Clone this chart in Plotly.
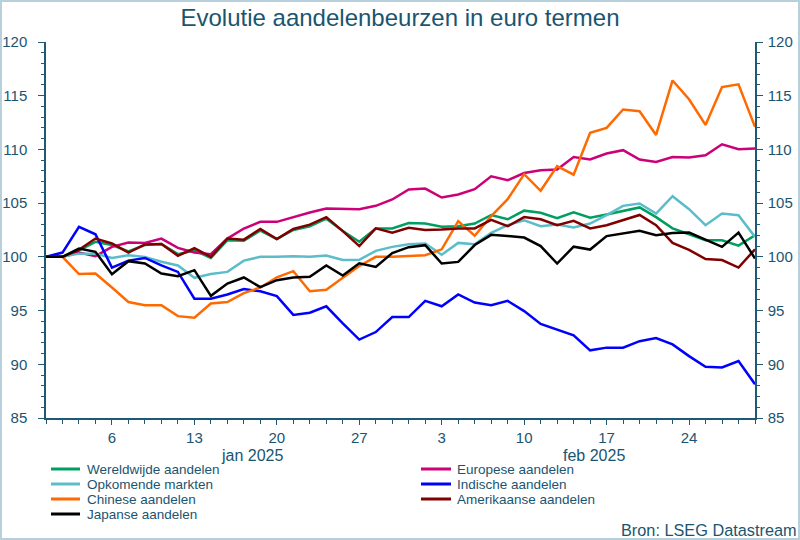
import plotly.graph_objects as go
import pandas as pd

# ---------------- data ----------------
dates = pd.bdate_range("2024-12-31", "2025-02-28")

tick_dates = ["2025-01-06", "2025-01-13", "2025-01-20", "2025-01-27",
              "2025-02-03", "2025-02-10", "2025-02-17", "2025-02-24"]
tick_labels = ["6", "13", "20", "27", "3", "10", "17", "24"]
month_labels = ["jan 2025", "feb 2025"]
month_centers = ["2025-01-16 12:00", "2025-02-14 06:00"]

wereldwijde = [100, 100, 100.6, 101.4, 101.1, 100.5, 101.1, 101.2, 100.25, 100.6,
               99.9, 101.55, 101.5, 102.45, 101.65, 102.5, 102.85, 103.55, 102.4, 101.4,
               102.65, 102.65, 103.15, 103.1, 102.8, 102.85, 103.1, 103.9, 103.5, 104.3,
               104.1, 103.6, 104.15, 103.65, 103.95, 104.3, 104.6, 103.7, 102.65, 102.1,
               101.55, 101.55, 101.05, 102.0]
europese = [100, 100, 100.4, 100.06, 100.93, 101.34, 101.3, 101.7, 100.84, 100.4,
            100.25, 101.7, 102.64, 103.26, 103.26, 103.72, 104.13, 104.5, 104.5, 104.44,
            104.75, 105.34, 106.27, 106.36, 105.52, 105.8, 106.3, 107.5, 107.13, 107.8,
            108.07, 108.13, 109.3, 109.06, 109.62, 109.93, 109.06, 108.84, 109.3, 109.24,
            109.46, 110.48, 110.02, 110.08]
opkomende = [100, 100, 100.3, 100.3, 99.9, 100.15, 100.0, 99.55, 99.2, 98.05,
             98.4, 98.6, 99.65, 100.0, 100.0, 100.05, 100.0, 100.12, 99.7, 99.72,
             100.56, 100.93, 101.18, 101.24, 100.2, 101.3, 101.18, 102.23, 102.95, 103.4,
             102.86, 103.0, 102.73, 103.1, 103.88, 104.75, 104.97, 104.03, 105.65, 104.44,
             102.95, 104.03, 103.88, 101.86]
indische = [100, 100.4, 102.8, 102.1, 99.0, 99.65, 99.9, 99.2, 98.6, 96.1,
            96.1, 96.5, 97.0, 96.8, 96.35, 94.6, 94.8, 95.4, 93.8, 92.3,
            93.0, 94.4, 94.4, 95.9, 95.4, 96.5, 95.75, 95.5, 95.9, 94.95,
            93.75, 93.2, 92.7, 91.3, 91.55, 91.55, 92.15, 92.45, 91.85, 90.76,
            89.77, 89.7, 90.3, 88.15]
chinese = [100, 100, 98.4, 98.45, 97.15, 95.8, 95.5, 95.5, 94.48, 94.33,
           95.66, 95.8, 96.62, 97.15, 98.1, 98.67, 96.8, 96.93, 98.05, 99.15,
           100.0, 100.0, 100.08, 100.15, 100.7, 103.33, 101.96, 103.8, 105.37, 107.7,
           106.15, 108.45, 107.65, 111.55, 112.0, 113.72, 113.55, 111.35, 116.42, 114.67,
           112.28, 115.8, 116.06, 112.1]
amerikaanse = [100, 100, 100.65, 101.7, 101.25, 100.4, 101.15, 101.2, 100.1, 100.8,
               100.0, 101.7, 101.6, 102.6, 101.65, 102.6, 103.0, 103.7, 102.4, 101.0,
               102.65, 102.25, 102.7, 102.5, 102.55, 102.65, 102.65, 103.45, 102.85, 103.7,
               103.5, 102.95, 103.35, 102.65, 102.95, 103.4, 103.9, 102.95, 101.3, 100.65,
               99.8, 99.7, 99.0, 100.7]
japanse = [100, 100, 100.78, 100.47, 98.39, 99.6, 99.38, 98.45, 98.2, 98.76,
           96.37, 97.52, 98.08, 97.18, 97.83, 98.08, 98.14, 99.2, 98.26, 99.4,
           99.07, 100.35, 100.9, 101.09, 99.38, 99.53, 101.1, 102.05, 101.95, 101.8,
           101.0, 99.38, 100.95, 100.68, 101.93, 102.17, 102.42, 102.02, 102.23, 102.26,
           101.62, 100.93, 102.26, 99.85]

series_names = ["Wereldwijde aandelen", "Europese aandelen", "Opkomende markten",
                "Indische aandelen", "Chinese aandelen", "Amerikaanse aandelen",
                "Japanse aandelen"]
series_values = [wereldwijde, europese, opkomende, indische, chinese, amerikaanse, japanse]
series_colors = ["#009e60", "#cc0077", "#5bbdca", "#0000ff", "#ff6a00", "#800000", "#000000"]

title_text = "Evolutie aandelenbeurzen in euro termen"
source_text = "Bron: LSEG Datastream"

# ---------------- style ----------------
W, H = 800, 540
ML, MR, MT, MB = 46, 45, 42, 122
PW, PH = W - ML - MR, H - MT - MB
axis_col = "#1f5a72"
text_col = "#1a5570"
font_fam = "Liberation Sans, Arial, sans-serif"


def px_x(px):
    return (px - ML) / PW


def px_y(py):
    return (H - MB - py) / PH


fig = go.Figure()
for name, vals, col in zip(series_names, series_values, series_colors):
    fig.add_trace(go.Scatter(x=dates, y=vals, mode="lines", name=name,
                             line=dict(color=col, width=2.5), showlegend=False,
                             hovertemplate="%{x|%d %b %Y}: %{y:.2f}<extra>" + name + "</extra>"))

yaxis_common = dict(range=[85, 120], tickmode="array", tickvals=list(range(85, 121, 5)),
                    ticks="outside", ticklen=6, tickwidth=1.2, tickcolor=axis_col,
                    showline=True, linecolor=axis_col, linewidth=1.5,
                    showgrid=False, zeroline=False, automargin=False,
                    tickfont=dict(size=15, color=text_col, family=font_fam),
                    minor=dict(dtick=1, ticks="outside", ticklen=3, tickcolor=axis_col,
                               tickwidth=1, showgrid=False))

fig.update_layout(
    width=W, height=H,
    margin=dict(l=ML, r=MR, t=MT, b=MB, pad=0, autoexpand=False),
    paper_bgcolor="white", plot_bgcolor="white",
    font=dict(family=font_fam, color=text_col),
    title=dict(text=title_text, x=0.5, xref="container", xanchor="center",
               y=1 - 18 / H, yref="container", yanchor="middle",
               font=dict(size=24, color=text_col, family=font_fam)),
    xaxis=dict(type="date", range=[dates[0], dates[-1]],
               rangebreaks=[dict(bounds=["sat", "mon"])],
               tickmode="array", tickvals=tick_dates, ticktext=tick_labels,
               ticks="outside", ticklen=5, tickwidth=1.2, tickcolor=axis_col,
               showline=True, linecolor=axis_col, linewidth=1.5,
               showgrid=False, zeroline=False, automargin=False,
               tickfont=dict(size=15, color=text_col, family=font_fam),
               minor=dict(tickvals=list(dates), ticks="outside", ticklen=4,
                          tickcolor=axis_col, tickwidth=1, showgrid=False)),
    yaxis=dict(side="left", ticklabelstandoff=8, **yaxis_common),
    yaxis2=dict(side="right", overlaying="y", ticklabelstandoff=2, **yaxis_common),
    showlegend=False,
)

# invisible trace so the right axis is rendered
fig.add_trace(go.Scatter(x=[dates[0]], y=[100], yaxis="y2", mode="lines",
                         line=dict(width=0), showlegend=False, hoverinfo="skip"))

annotations = []
for lab, c in zip(month_labels, month_centers):
    annotations.append(dict(text=lab, x=c, xref="x", y=px_y(455), yref="paper",
                            showarrow=False, xanchor="center", yanchor="middle",
                            font=dict(size=16, color=text_col, family=font_fam)))

shapes = []
row_y = [469, 484, 499, 514]
col_line_x = [(51, 80), (421, 451)]
col_text_x = [85, 455]
for k, (name, col) in enumerate(zip(series_names, series_colors)):
    c, r = k % 2, k // 2
    yy = px_y(row_y[r])
    shapes.append(dict(type="line", xref="paper", yref="paper",
                       x0=px_x(col_line_x[c][0]), x1=px_x(col_line_x[c][1]),
                       y0=yy, y1=yy, line=dict(color=col, width=3)))
    annotations.append(dict(text=name, xref="paper", yref="paper",
                            x=px_x(col_text_x[c]), y=yy, showarrow=False,
                            xanchor="left", yanchor="middle",
                            font=dict(size=13.5, color=text_col, family=font_fam)))

annotations.append(dict(text=source_text, xref="paper", yref="paper",
                        x=px_x(799), y=px_y(530), showarrow=False,
                        xanchor="right", yanchor="middle",
                        font=dict(size=16.3, color=text_col, family=font_fam)))

# light frame round the whole picture
shapes.append(dict(type="rect", xref="paper", yref="paper",
                   x0=px_x(1), x1=px_x(W - 1), y0=px_y(H - 1), y1=px_y(1),
                   line=dict(color="#b7d0db", width=2), layer="below"))

fig.update_layout(annotations=annotations, shapes=shapes)
fig.write_html("out.html", config={"displayModeBar": False},
               post_script="document.body.style.margin='0px';document.body.style.padding='0px';")
